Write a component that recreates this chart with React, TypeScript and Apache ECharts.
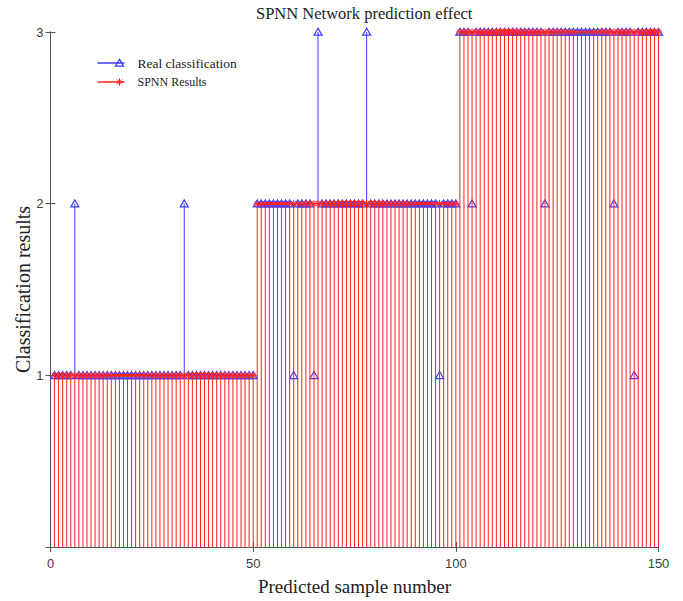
import React, { useEffect, useRef } from "react";
import * as echarts from "echarts";

// Real classification per sample (samples 1..150)
const realClassification: number[] = [
  1, 1, 1, 1, 1, 2, 1, 1, 1, 1,
  1, 1, 1, 1, 1, 1, 1, 1, 1, 1,
  1, 1, 1, 1, 1, 1, 1, 1, 1, 1,
  1, 1, 2, 1, 1, 1, 1, 1, 1, 1,
  1, 1, 1, 1, 1, 1, 1, 1, 1, 1,
  2, 2, 2, 2, 2, 2, 2, 2, 2, 1,
  2, 2, 2, 2, 1, 3, 2, 2, 2, 2,
  2, 2, 2, 2, 2, 2, 2, 3, 2, 2,
  2, 2, 2, 2, 2, 2, 2, 2, 2, 2,
  2, 2, 2, 2, 2, 1, 2, 2, 2, 2,
  3, 3, 3, 2, 3, 3, 3, 3, 3, 3,
  3, 3, 3, 3, 3, 3, 3, 3, 3, 3,
  3, 2, 3, 3, 3, 3, 3, 3, 3, 3,
  3, 3, 3, 3, 3, 3, 3, 3, 2, 3,
  3, 3, 3, 1, 3, 3, 3, 3, 3, 3,
];

// SPNN results per sample (samples 1..150)
const spnnResults: number[] = [
  1, 1, 1, 1, 1, 1, 1, 1, 1, 1,
  1, 1, 1, 1, 1, 1, 1, 1, 1, 1,
  1, 1, 1, 1, 1, 1, 1, 1, 1, 1,
  1, 1, 1, 1, 1, 1, 1, 1, 1, 1,
  1, 1, 1, 1, 1, 1, 1, 1, 1, 1,
  2, 2, 2, 2, 2, 2, 2, 2, 2, 2,
  2, 2, 2, 2, 2, 2, 2, 2, 2, 2,
  2, 2, 2, 2, 2, 2, 2, 2, 2, 2,
  2, 2, 2, 2, 2, 2, 2, 2, 2, 2,
  2, 2, 2, 2, 2, 2, 2, 2, 2, 2,
  3, 3, 3, 3, 3, 3, 3, 3, 3, 3,
  3, 3, 3, 3, 3, 3, 3, 3, 3, 3,
  3, 3, 3, 3, 3, 3, 3, 3, 3, 3,
  3, 3, 3, 3, 3, 3, 3, 3, 3, 3,
  3, 3, 3, 3, 3, 3, 3, 3, 3, 3,
];

const yTicks = [1, 2, 3];
const titleText = "SPNN Network prediction effect";
const xName = "Predicted sample number";
const yName = "Classification results";
const legendNames = ["Real classification", "SPNN Results"];

const BLUE = "#3a3aff";
const RED = "#ff2020";
const AXIS = "#555555";
const SERIF = "'Liberation Serif', 'Times New Roman', serif";
const SANS = "'Liberation Sans', Arial, sans-serif";

function trianglePoints(cx: number, cy: number) {
  return [
    [cx, cy - 3.8],
    [cx - 4, cy + 3.2],
    [cx + 4, cy + 3.2],
  ];
}

function asteriskLines(cx: number, cy: number, color: string, z2: number) {
  const r = 3.6;
  const d = r * 0.72;
  const st = { stroke: color, lineWidth: 1 };
  return [
    { type: "line", z2, shape: { x1: cx - r, y1: cy, x2: cx + r, y2: cy }, style: st },
    { type: "line", z2, shape: { x1: cx, y1: cy - r, x2: cx, y2: cy + r }, style: st },
    { type: "line", z2, shape: { x1: cx - d, y1: cy - d, x2: cx + d, y2: cy + d }, style: st },
    { type: "line", z2, shape: { x1: cx - d, y1: cy + d, x2: cx + d, y2: cy - d }, style: st },
  ];
}

export default function App() {
  const ref = useRef<HTMLDivElement>(null);

  useEffect(() => {
    if (!ref.current) return;
    const chart = echarts.init(ref.current, undefined, { renderer: "svg" });

    // [sample number, real classification, SPNN result]
    const stemData = realClassification.map((v, i) => [i + 1, v, spnnResults[i]]);

    const renderStems = (params: any, api: any) => {
      const x = api.value(0);
      const real = api.value(1);
      const pred = api.value(2);
      const base = api.coord([x, 0]);
      const pReal = api.coord([x, real]);
      const pPred = api.coord([x, pred]);
      const sx = base[0];
      const children: any[] = [];
      // Real classification stem: only the part not hidden behind the SPNN stem
      if (real > pred) {
        children.push({
          type: "line",
          z2: 1,
          shape: { x1: sx, y1: pPred[1], x2: sx, y2: pReal[1] },
          style: { stroke: BLUE, lineWidth: 1 },
        });
      }
      children.push({
        type: "polygon",
        z2: 2,
        shape: { points: trianglePoints(sx, pReal[1]) },
        style: { fill: "none", stroke: BLUE, lineWidth: 1.2 },
      });
      // SPNN results: stem + asterisk (drawn on top)
      children.push({
        type: "line",
        z2: 3,
        shape: { x1: sx, y1: base[1], x2: sx, y2: pPred[1] },
        style: { stroke: RED, lineWidth: 1 },
      });
      children.push(...asteriskLines(sx, pPred[1], RED, 4));
      return { type: "group", children };
    };

    const gridLeft = 50.5;
    const gridTop = 32;
    const gridWidth = 608;
    const gridHeight = 520;

    const option: any = {
      animation: false,
      backgroundColor: "#ffffff",
      title: {
        text: titleText,
        left: 256,
        top: 5,
        padding: 0,
        textStyle: { fontFamily: SERIF, fontSize: 16.5, fontWeight: "normal", color: "#222222" },
      },
      grid: { left: gridLeft, top: gridTop, width: gridWidth, height: gridHeight, containLabel: false },
      xAxis: [
        {
          type: "value",
          min: 0,
          max: 150,
          interval: 50,
          position: "bottom",
          name: xName,
          nameLocation: "middle",
          nameGap: 30,
          nameMoveOverlap: false,
          nameTextStyle: { fontFamily: SERIF, fontSize: 19, color: "#222222" },
          axisLine: { show: true, lineStyle: { color: AXIS, width: 1 } },
          axisTick: { show: true, inside: true, length: 5, lineStyle: { color: AXIS } },
          axisLabel: {
            show: true,
            margin: 10,
            fontFamily: SANS,
            fontSize: 13,
            color: "#404040",
          },
          splitLine: { show: false },
        },
        {
          type: "value",
          min: 0,
          max: 150,
          interval: 50,
          position: "top",
          axisLine: { show: true, lineStyle: { color: AXIS, width: 1 } },
          axisTick: { show: true, inside: true, length: 5, lineStyle: { color: AXIS } },
          axisLabel: { show: false },
          splitLine: { show: false },
        },
      ],
      yAxis: [
        {
          type: "value",
          min: 0,
          max: 3,
          interval: 1,
          position: "left",
          name: yName,
          nameLocation: "middle",
          nameGap: 18,
          nameMoveOverlap: false,
          nameTextStyle: { fontFamily: SERIF, fontSize: 20, color: "#222222" },
          axisLine: { show: true, lineStyle: { color: AXIS, width: 1 } },
          axisTick: { show: true, inside: true, length: 5, lineStyle: { color: AXIS } },
          axisLabel: {
            show: true,
            margin: 7,
            fontFamily: SANS,
            fontSize: 13,
            color: "#404040",
            formatter: (v: number) => (yTicks.indexOf(v) >= 0 ? String(v) : ""),
          },
          splitLine: { show: false },
        },
        {
          type: "value",
          min: 0,
          max: 3,
          interval: 1,
          position: "right",
          axisLine: { show: true, lineStyle: { color: AXIS, width: 1 } },
          axisTick: { show: true, inside: true, length: 5, lineStyle: { color: AXIS } },
          axisLabel: { show: false },
          splitLine: { show: false },
        },
      ],
      series: [
        {
          name: "Stems",
          type: "custom",
          xAxisIndex: 0,
          yAxisIndex: 0,
          clip: false,
          renderItem: renderStems,
          encode: { x: 0, y: [1, 2] },
          data: stemData,
          z: 3,
        },
      ],
      graphic: [
        {
          type: "group",
          left: 95,
          top: 56,
          z: 10,
          children: [
            { type: "line", shape: { x1: 0, y1: 9, x2: 27, y2: 9 }, style: { stroke: BLUE, lineWidth: 1.5 } },
            {
              type: "polygon",
              shape: { points: trianglePoints(22, 9) },
              style: { fill: "none", stroke: BLUE, lineWidth: 1.3 },
            },
            {
              type: "text",
              x: 40,
              y: 9,
              style: {
                text: legendNames[0],
                fontFamily: SERIF,
                fontSize: 13.5,
                fill: "#222222",
                verticalAlign: "middle",
              },
            },
            { type: "line", shape: { x1: 0, y1: 28, x2: 27, y2: 28 }, style: { stroke: RED, lineWidth: 1.5 } },
            ...asteriskLines(22, 28, RED, 0),
            {
              type: "text",
              x: 40,
              y: 28,
              style: {
                text: legendNames[1],
                fontFamily: SERIF,
                fontSize: 12,
                fill: "#222222",
                verticalAlign: "middle",
              },
            },
          ],
        },
      ],
    };

    chart.setOption(option);
    return () => chart.dispose();
  }, []);

  return (
    <div
      ref={ref}
      style={{ position: "absolute", left: 0, top: 0, width: 683, height: 601, background: "#fff" }}
    />
  );
}
